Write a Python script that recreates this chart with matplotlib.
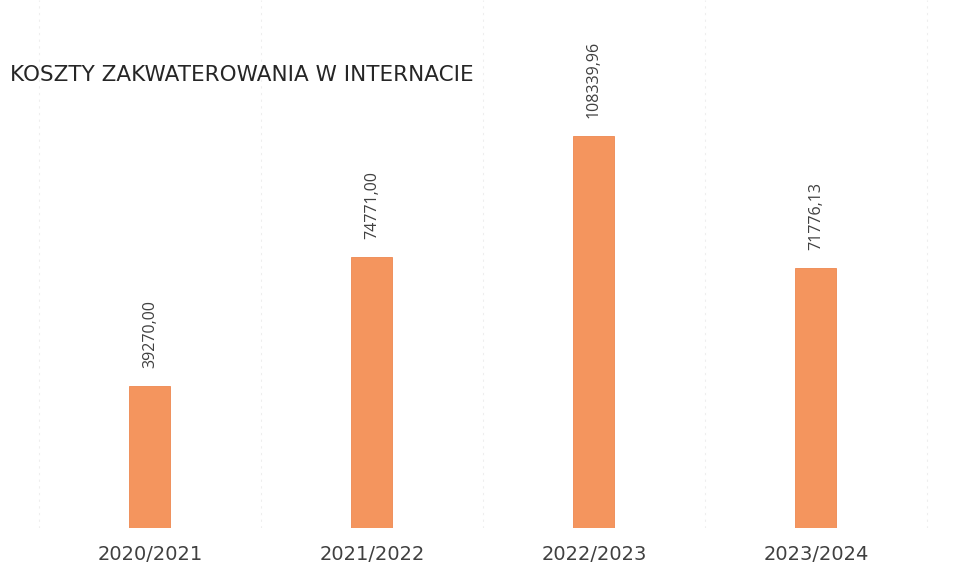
import numpy as np
import matplotlib.pyplot as plt

years = ['2020/2021', '2021/2022', '2022/2023', '2023/2024']
costs = [39270.00, 74771.00, 108339.96, 71776.13]
cost_labels = ['39270,00', '74771,00', '108339,96', '71776,13']

BAR_COLOR = '#F4955E'
TEXT_COLOR = '#404040'

fig = plt.figure(figsize=[9.59, 5.69], dpi=100, facecolor='white')
ax = fig.add_axes([0, 41/569, 1, 1 - 41/569])

x = np.arange(len(years))
bars = ax.bar(x, costs, width=0.184, color=BAR_COLOR, edgecolor='#EE8850', linewidth=0.6)

XMIN, XMAX = -0.675, 3.645
ax.set_xlim(XMIN, XMAX)
ax.set_ylim(0, 145800)

# value labels rotated above each bar
for b, lab in zip(bars, cost_labels):
    ax.annotate(lab, (b.get_x() + b.get_width()/2, b.get_height()),
                xytext=(0, 13), textcoords='offset points',
                rotation=90, ha='center', va='bottom',
                fontsize=11.5, color=TEXT_COLOR, family='Open Sans')

# faint vertical grid between categories
for gx in [-0.5, 0.5, 1.5, 2.5, 3.5]:
    ax.axvline(gx, color='#eeeeee', lw=0.8, ls=(0, (2, 4)), zorder=0)

ax.set_xticks([])
ax.set_yticks([])
for s in ax.spines.values():
    s.set_visible(False)

for xi, yr in zip(x, years):
    fig.text((xi - XMIN)/(XMAX - XMIN), 1 - 555/569, yr, ha='center', va='center',
             fontsize=14, color=TEXT_COLOR, family='DejaVu Sans')

fig.text(10/959, 1 - 75/569, 'KOSZTY ZAKWATEROWANIA W INTERNACIE',
         ha='left', va='center', fontsize=15.5, color='#262626', family='DejaVu Sans')

fig.savefig('out.png', dpi=100, facecolor='white')
